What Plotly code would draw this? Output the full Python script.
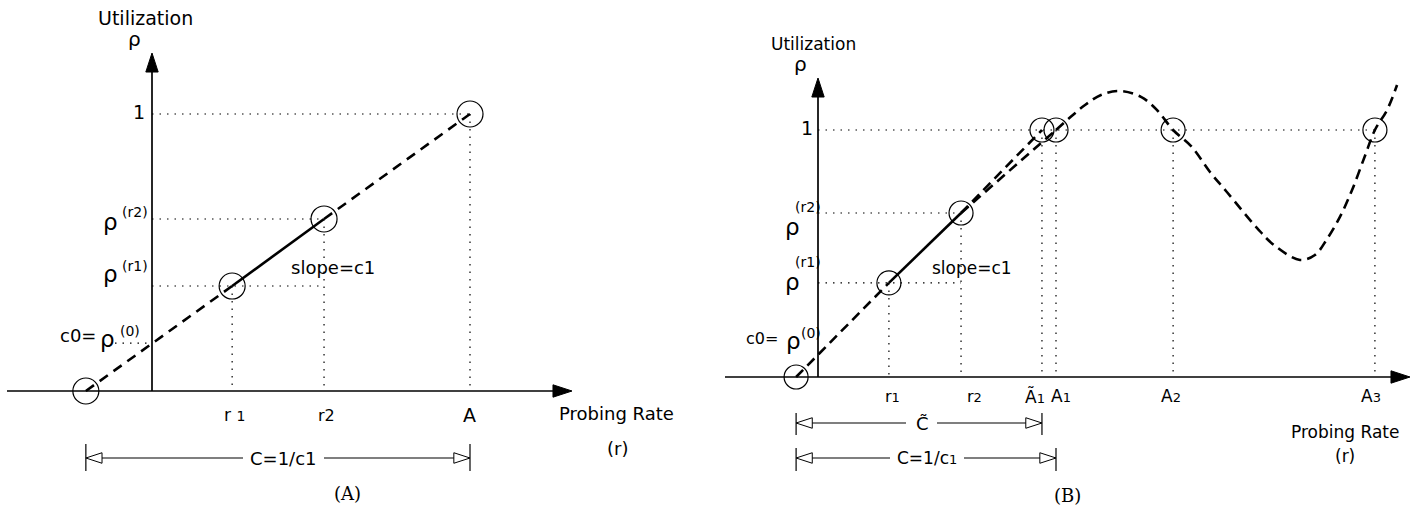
import plotly.graph_objects as go

W, H = 1421, 508

# ---------------- data: panel (A) ----------------
a_r0 = -0.208                      # x-intercept of the fitted line
a_rates = [0.252, 0.541, 1.0]      # r1, r2, A
a_utils = [0.379, 0.621, 1.0]      # rho(r1), rho(r2), 1
a_c0 = 0.173                       # rho(0)

# ---------------- data: panel (B) ----------------
b_r0 = -0.092
b_rates = [0.298, 0.601]           # r1, r2
b_utils = [0.381, 0.664]           # rho(r1), rho(r2)
b_A1t, b_A1, b_A2, b_A3 = 0.941, 1.0, 1.492, 2.34
b_curve_r = [1.0, 1.071, 1.122, 1.189, 1.265, 1.357, 1.424, 1.492, 1.571, 1.647,
             1.718, 1.845, 1.916, 2.025, 2.088, 2.139, 2.193, 2.244, 2.298, 2.34,
             2.391, 2.433]
b_curve_u = [1.0, 1.061, 1.101, 1.142, 1.158, 1.134, 1.081, 1.0, 0.931, 0.830,
             0.749, 0.603, 0.534, 0.474, 0.494, 0.559, 0.648, 0.757, 0.895, 1.0,
             1.081, 1.182]

# ---------------- pixel <-> data helpers (layout only) ----------------
A_X0, A_SX, A_Y0, A_SY = 152, 318, 391, 277
B_X0, B_SX, B_Y0, B_SY = 818, 238, 377, 247
def xa(px): return (px - A_X0) / A_SX
def ya(py): return (A_Y0 - py) / A_SY
def xb(px): return (px - B_X0) / B_SX
def yb(py): return (B_Y0 - py) / B_SY

SANS = "DejaVu Sans"
SERIF = "DejaVu Serif"
BLACK = "black"
DASH = "10px,7px"
DOT = "1.5px,6px"

fig = go.Figure()

def axes_of(panel):
    return ("x", "y") if panel == "A" else ("x2", "y2")

def line(xs, ys, panel, dash=None, width=2.6, shape="linear"):
    xr, yr = axes_of(panel)
    fig.add_trace(go.Scatter(
        x=xs, y=ys, mode="lines", xaxis=xr, yaxis=yr, hoverinfo="skip", showlegend=False,
        line=dict(color=BLACK, width=width, dash=dash, shape=shape,
                  smoothing=1.0 if shape == "spline" else None)))

def dotted(xs, ys, panel):
    line(xs, ys, panel, dash=DOT, width=1.2)

def circles(xs, ys, panel, size):
    xr, yr = axes_of(panel)
    fig.add_trace(go.Scatter(
        x=xs, y=ys, mode="markers", xaxis=xr, yaxis=yr, hoverinfo="skip", showlegend=False,
        marker=dict(symbol="circle-open", size=size, color=BLACK, line=dict(width=1.2))))

def arrow_line(xs, ys, panel, width=1.7, size=20, fill=BLACK):
    xr, yr = axes_of(panel)
    fig.add_trace(go.Scatter(
        x=xs, y=ys, mode="lines+markers", xaxis=xr, yaxis=yr, hoverinfo="skip",
        showlegend=False, line=dict(color=BLACK, width=width),
        marker=dict(symbol="arrow", size=size, angleref="previous", color=fill,
                    line=dict(color=BLACK, width=1))))

# ===== Panel A =====
r1, r2, rA = a_rates
u1, u2, uA = a_utils
dotted([0, rA], [uA, uA], "A"); dotted([rA, rA], [uA, 0], "A")
dotted([0, r2], [u2, u2], "A"); dotted([r2, r2], [u2, 0], "A")
dotted([0, r2], [u1, u1], "A"); dotted([r1, r1], [u1, 0], "A")
dotted([xa(115), 0], [a_c0, a_c0], "A")
arrow_line([xa(7), xa(572)], [0, 0], "A")
arrow_line([0, 0], [0, ya(53)], "A")
line([a_r0, r1], [0, u1], "A", dash=DASH)
line([r1, r2], [u1, u2], "A")
line([r2, rA], [u2, uA], "A", dash=DASH)
circles([a_r0, r1, r2, rA], [0, u1, u2, uA], "A", 26)
yy = ya(458)
arrow_line([xa(243), a_r0], [yy, yy], "A", width=1.2, size=17, fill="white")
arrow_line([xa(324), rA], [yy, yy], "A", width=1.2, size=17, fill="white")

# ===== Panel B =====
q1, q2 = b_rates
v1, v2 = b_utils
dotted([0, b_A3], [1, 1], "B")
for xv in [b_A1t, b_A1, b_A2, b_A3]:
    dotted([xv, xv], [1, 0], "B")
dotted([0, q2], [v2, v2], "B"); dotted([q2, q2], [v2, 0], "B")
dotted([0, q2], [v1, v1], "B"); dotted([q1, q1], [v1, 0], "B")
arrow_line([xb(725), xb(1410)], [0, 0], "B")
arrow_line([0, 0], [0, yb(78)], "B")
line([b_r0, q1], [0, v1], "B", dash="10px,6px")
line([q1, q2], [v1, v2], "B")
line([q2, b_A1t], [v2, 1], "B", dash="10px,6px")
line([q2, b_A1], [v2, 1], "B", dash="10px,6px")
line(b_curve_r, b_curve_u, "B", dash="10px,6px", shape="spline")
circles([b_r0, q1, q2, b_A1t, b_A1, b_A2, b_A3], [0, v1, v2, 1, 1, 1, 1], "B", 24)
yy = yb(423)
arrow_line([xb(906), b_r0], [yy, yy], "B", width=1.2, size=17, fill="white")
arrow_line([xb(937), b_A1t], [yy, yy], "B", width=1.2, size=17, fill="white")
yy = yb(458)
arrow_line([xb(890), b_r0], [yy, yy], "B", width=1.2, size=17, fill="white")
arrow_line([xb(964), b_A1], [yy, yy], "B", width=1.2, size=17, fill="white")

shapes = []
def vbar(xv, xref, py0, py1):
    shapes.append(dict(type="line", xref=xref, yref="paper", x0=xv, x1=xv,
                       y0=1 - py0 / H, y1=1 - py1 / H, line=dict(color=BLACK, width=1.2)))
vbar(a_r0, "x", 444, 471); vbar(rA, "x", 444, 471)
vbar(b_r0, "x2", 413, 435); vbar(b_A1t, "x2", 413, 435)
vbar(b_r0, "x2", 448, 471); vbar(b_A1, "x2", 448, 471)

# ---------------- texts ----------------
ann = []
def txt(s, px, py, size=17, family=SANS, xanchor="center"):
    ann.append(dict(text=s, x=px / W, y=1 - py / H, xref="paper", yref="paper",
                    showarrow=False, xanchor=xanchor, yanchor="middle",
                    font=dict(family=family, size=size, color=BLACK)))

def small(s, sz=13):
    return f"<span style='font-size:{sz}px'>{s}</span>"

# Panel A texts
txt("Utilization", 145, 18, 19)
txt("ρ", 134, 39, 20)
txt("1", 139, 112, 19)
txt("ρ", 110, 222, 23); txt("(r2)", 135, 212, 14)
txt("ρ", 110, 274, 23); txt("(r1)", 135, 266, 14)
txt("c0=", 78, 335, 18); txt("ρ", 108, 339, 23); txt("(0)", 130, 331, 14)
txt("slope=c1", 333, 267, 18)
txt("r " + small("1", 14), 234, 415, 17)
txt("r2", 326, 415, 16)
txt("A", 470, 415, 19)
txt("Probing Rate", 557, 413, 18, xanchor="left")
txt("(r)", 617, 448, 18)
txt("C=1/c1", 283, 458, 18)
txt("(A)", 347, 493, 18, family=SERIF)

# Panel B texts
txt("Utilization", 814, 44, 17)
txt("ρ", 800, 64, 20)
txt("1", 807, 128, 19)
txt("ρ", 792, 227, 23); txt("(r2)", 808, 207, 14)
txt("ρ", 792, 282, 23); txt("(r1)", 808, 262, 14)
txt("c0=", 762, 338, 16); txt("ρ", 793, 341, 23); txt("(0)", 811, 333, 14)
txt("slope=c1", 972, 268, 17)
txt("r" + small("1"), 892, 396, 16)
txt("r" + small("2"), 974, 396, 16)
txt("Ã" + small("1"), 1035, 396, 17)
txt("A" + small("1"), 1061, 396, 17)
txt("A" + small("2"), 1171, 396, 17)
txt("A" + small("3"), 1371, 396, 17)
txt("C\u0303", 922, 423, 18)
txt("C=1/c" + small("1"), 927, 458, 17)
txt("Probing Rate", 1345, 432, 17)
txt("(r)", 1345, 456, 17)
txt("(B)", 1067, 495, 18, family=SERIF)

ax_common = dict(visible=False, showgrid=False, zeroline=False, fixedrange=True)
fig.update_layout(
    width=W, height=H, margin=dict(l=0, r=0, t=0, b=0, pad=0),
    paper_bgcolor="white", plot_bgcolor="white", showlegend=False,
    xaxis=dict(domain=[0, 0.5], range=[xa(0), xa(W / 2)], anchor="y", **ax_common),
    yaxis=dict(domain=[0, 1], range=[ya(H), ya(0)], anchor="x", **ax_common),
    xaxis2=dict(domain=[0.5, 1], range=[xb(W / 2), xb(W)], anchor="y2", **ax_common),
    yaxis2=dict(domain=[0, 1], range=[yb(H), yb(0)], anchor="x2", **ax_common),
    shapes=shapes, annotations=ann,
)

fig.write_html("out.html", config={"displayModeBar": False},
               post_script="document.body.style.margin='0';document.body.style.overflow='hidden';")
